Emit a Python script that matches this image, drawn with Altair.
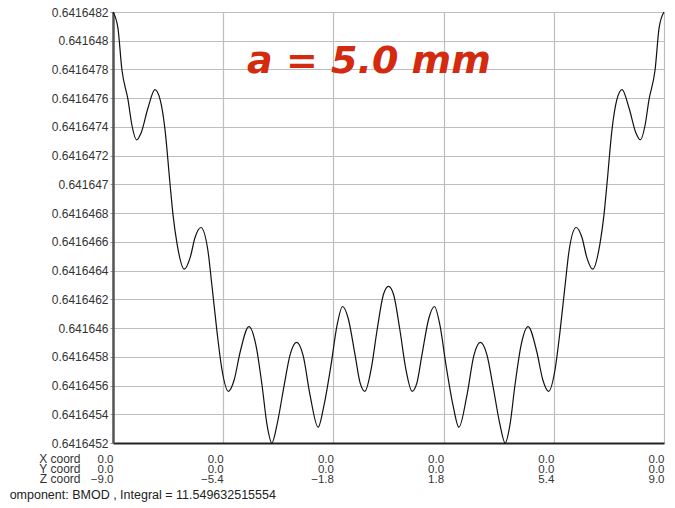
import altair as alt
import pandas as pd

# Z coordinate (mm) along the line
z_vals = [
    -9.00, -8.84, -8.71, -8.51, -8.38, -8.23, -8.08, -7.86, -7.63, -7.46,
    -7.30, -7.14, -7.04, -6.91, -6.67, -6.48, -6.32, -6.13, -5.90, -5.77,
    -5.60, -5.44, -5.23, -5.04, -4.85, -4.56, -4.33, -4.13, -3.97, -3.81,
    -3.64, -3.41, -3.22, -3.00, -2.79, -2.56, -2.30, -2.11, -1.88, -1.68,
    -1.50, -1.32, -1.09, -0.93, -0.77, -0.57, -0.37, -0.17, 0.00,
    0.17, 0.37, 0.57, 0.77, 0.93, 1.09, 1.32, 1.50, 1.68, 1.88,
    2.11, 2.30, 2.56, 2.79, 3.00, 3.22, 3.41, 3.64, 3.81, 3.97,
    4.13, 4.33, 4.56, 4.85, 5.04, 5.23, 5.44, 5.60, 5.77, 5.90,
    6.13, 6.32, 6.48, 6.67, 6.91, 7.04, 7.14, 7.30, 7.46, 7.63,
    7.86, 8.08, 8.23, 8.38, 8.51, 8.71, 8.84, 9.00,
]

# BMOD values
bmod_vals = [
    0.64164820, 0.64164809, 0.64164780, 0.64164759, 0.64164741, 0.64164731, 0.64164736, 0.64164753, 0.64164766, 0.64164759,
    0.64164738, 0.64164701, 0.64164679, 0.64164659, 0.64164641, 0.64164649, 0.64164663, 0.64164670, 0.64164654, 0.64164630,
    0.64164597, 0.64164571, 0.64164556, 0.64164564, 0.64164583, 0.64164601, 0.64164588, 0.64164560, 0.64164533, 0.64164520,
    0.64164533, 0.64164560, 0.64164581, 0.64164590, 0.64164581, 0.64164553, 0.64164531, 0.64164546, 0.64164574, 0.64164602,
    0.64164615, 0.64164607, 0.64164581, 0.64164562, 0.64164556, 0.64164571, 0.64164599, 0.64164623, 0.64164629,
    0.64164623, 0.64164599, 0.64164571, 0.64164556, 0.64164562, 0.64164581, 0.64164607, 0.64164615, 0.64164602, 0.64164574,
    0.64164546, 0.64164531, 0.64164553, 0.64164581, 0.64164590, 0.64164581, 0.64164560, 0.64164533, 0.64164520, 0.64164533,
    0.64164560, 0.64164588, 0.64164601, 0.64164583, 0.64164564, 0.64164556, 0.64164571, 0.64164597, 0.64164630, 0.64164654,
    0.64164670, 0.64164663, 0.64164649, 0.64164641, 0.64164659, 0.64164679, 0.64164701, 0.64164738, 0.64164759, 0.64164766,
    0.64164753, 0.64164736, 0.64164731, 0.64164741, 0.64164759, 0.64164780, 0.64164809, 0.64164820,
]

x_ticks = [-9.0, -5.4, -1.8, 1.8, 5.4, 9.0]
y_ticks = [0.6416452, 0.6416454, 0.6416456, 0.6416458, 0.641646, 0.6416462, 0.6416464,
           0.6416466, 0.6416468, 0.641647, 0.6416472, 0.6416474, 0.6416476, 0.6416478,
           0.641648, 0.6416482]
row_titles = ["X coord", "Y coord", "Z coord"]
footer = "omponent: BMOD , Integral = 11.549632515554"
annotation = ["a = 5.0 mm"]
ann_z = [-0.64]
ann_b = [0.64164785]

df = pd.DataFrame({"z": z_vals, "b": bmod_vals})
ann_df = pd.DataFrame({"z": ann_z, "b": ann_b, "t": annotation})

x_scale = alt.Scale(domain=[-9, 9], nice=False, zero=False)
y_scale = alt.Scale(domain=[0.6416452, 0.6416482], nice=False, zero=False)

line = alt.Chart(df).mark_line(color="#111111", strokeWidth=1.2, interpolate="monotone").encode(
    x=alt.X("z:Q", scale=x_scale,
            axis=alt.Axis(values=x_ticks, tickCount=20, grid=True, gridColor="#bdbdbd", gridWidth=1.2,
                          domainColor="#222222", domainWidth=2, ticks=False,
                          labelExpr="['0.0', '0.0', format(datum.value, '.1f')]",
                          labelAlign="right", labelBaseline="top", labelPadding=10,
                          labelFont="Liberation Sans", labelFontSize=11.5, labelColor="#333333",
                          labelLineHeight=10, labelFlush=False, labelOverlap=False,
                          title=row_titles, titleFont="Liberation Sans", titleFontSize=12,
                          titleFontWeight="normal", titleColor="#333333", titleAlign="right",
                          titleBaseline="top", titleX=-33, titleY=10, titleLineHeight=10,
                          titleAnchor="start", titleAngle=0)),
    y=alt.Y("b:Q", scale=y_scale,
            axis=alt.Axis(values=y_ticks, tickCount=40, grid=True, gridColor="#bdbdbd", gridWidth=1.2,
                          domainColor="#555555", domainWidth=2.5, tickColor="#999999",
                          tickSize=3, labelPadding=2,
                          labelExpr="format(datum.value, '.7~f')",
                          labelFont="Liberation Sans", labelFontSize=12, labelColor="#333333",
                          labelFlush=False, labelOverlap=False, title=None)),
)

text = alt.Chart(ann_df).mark_text(
    font="DejaVu Sans", fontSize=38, fontWeight="bold", fontStyle="italic",
    color="#d42a0e", align="center", baseline="middle",
).encode(
    x=alt.X("z:Q", scale=x_scale),
    y=alt.Y("b:Q", scale=y_scale),
    text="t:N",
)

chart = (line + text).properties(
    width=551, height=431,
    padding={"left": 113, "top": 12, "right": 11, "bottom": 65},
    autosize=alt.AutoSizeParams(type="none"),
    title=alt.TitleParams(footer, orient="bottom", anchor="start", dx=-29, offset=4,
                          font="Liberation Sans", fontSize=12.5, fontWeight="normal",
                          color="#222222"),
).configure_view(stroke=None).configure(background="white")

chart.save("out.html", embed_options={"renderer": "svg", "actions": False})
